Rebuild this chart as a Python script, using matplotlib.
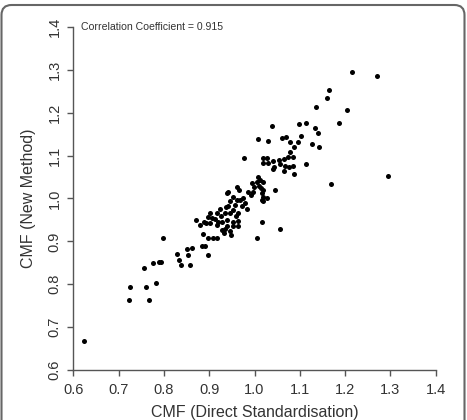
import numpy as np
import matplotlib
matplotlib.use('Agg')
import matplotlib.pyplot as plt
from matplotlib.patches import FancyBboxPatch

plt.rcParams['font.family'] = ['Liberation Sans', 'DejaVu Sans']

# CMF values (direct standardisation vs new method)
cmf_direct = [0.624, 0.725, 0.723, 0.760, 0.766, 0.783, 0.755, 0.777, 0.790, 0.793,
              0.828, 0.834, 0.837, 0.854, 0.857, 0.861, 0.852, 0.797, 0.883, 0.891,
              0.898, 0.871, 0.886, 0.898, 0.908, 0.917, 0.948, 1.005, 1.016, 1.056,
              1.169, 1.295, 1.046,
              0.880, 0.889, 0.893, 0.902, 0.906, 0.913, 0.917, 0.925, 0.920, 0.928,
              0.924, 0.935, 0.937, 0.940, 0.928, 0.935, 0.940, 0.933, 0.946, 0.946,
              0.952, 0.957, 0.961, 0.953, 0.942, 0.939, 0.962, 0.966, 0.968, 0.975,
              0.979, 0.972, 0.964, 0.959, 0.964, 0.952, 0.964, 0.953, 0.942, 0.983,
              0.986, 0.992, 0.997, 0.994, 0.999, 1.005, 1.008, 1.012, 1.019, 1.011,
              1.014, 1.019, 1.016, 1.019, 1.027, 1.016, 1.019, 0.902, 0.898, 0.917,
              0.946,
              0.977, 1.018, 1.027, 1.019, 1.030, 1.040, 1.055, 1.064, 1.075, 1.086,
              1.078, 1.056, 1.067, 1.077, 1.042, 1.040, 1.064, 1.086, 1.087, 1.113,
              1.008, 1.029, 1.061, 1.070, 1.078, 1.095, 1.087, 1.103, 1.128, 1.143,
              1.141, 1.134, 1.039, 1.098, 1.114, 1.186, 1.136, 1.205, 1.159, 1.164,
              1.215, 1.270]
cmf_new = [0.668, 0.794, 0.764, 0.794, 0.763, 0.804, 0.837, 0.850, 0.851, 0.853,
           0.870, 0.857, 0.845, 0.868, 0.845, 0.884, 0.881, 0.907, 0.888, 0.889,
           0.868, 0.950, 0.917, 0.907, 0.907, 0.907, 0.915, 0.907, 0.944, 0.929,
           1.033, 1.053, 1.020,
           0.938, 0.946, 0.942, 0.942, 0.955, 0.951, 0.965, 0.958, 0.946, 0.946,
           0.975, 0.965, 0.979, 0.950, 0.927, 0.928, 0.936, 0.919, 0.923, 0.965,
           0.973, 0.985, 0.997, 1.004, 1.016, 1.012, 1.026, 1.020, 0.997, 1.000,
           0.989, 0.983, 0.967, 0.959, 0.948, 0.946, 0.936, 0.936, 0.983, 0.976,
           1.016, 1.008, 1.016, 1.035, 1.027, 1.039, 1.049, 1.043, 1.039, 1.030,
           1.024, 1.020, 1.012, 1.004, 1.000, 0.997, 0.993, 0.965, 0.956, 0.938,
           0.994,
           1.095, 1.094, 1.094, 1.082, 1.082, 1.087, 1.090, 1.091, 1.097, 1.096,
           1.108, 1.080, 1.076, 1.074, 1.074, 1.068, 1.063, 1.076, 1.057, 1.080,
           1.138, 1.134, 1.142, 1.144, 1.131, 1.131, 1.121, 1.145, 1.126, 1.119,
           1.152, 1.164, 1.170, 1.173, 1.177, 1.176, 1.213, 1.206, 1.234, 1.252,
           1.295, 1.285]

ticks = [0.6, 0.7, 0.8, 0.9, 1.0, 1.1, 1.2, 1.3, 1.4]
tick_labels = ['0.6', '0.7', '0.8', '0.9', '1.0', '1.1', '1.2', '1.3', '1.4']

fig = plt.figure(figsize=(4.67, 4.2), dpi=100)
ax = fig.add_axes([0.157, 0.119, 0.776, 0.817])

ax.scatter(cmf_direct, cmf_new, s=13, c='black', linewidths=0)

ax.set_xlim(0.6, 1.4)
ax.set_ylim(0.6, 1.4)
ax.set_xticks(ticks)
ax.set_xticklabels(tick_labels)
ax.set_yticks(ticks)
ax.set_yticklabels(tick_labels, rotation=90, va='center')
for s in ['top', 'right']:
    ax.spines[s].set_visible(False)
for s in ['left', 'bottom']:
    ax.spines[s].set_color('#555555')
    ax.spines[s].set_linewidth(1.0)
ax.tick_params(axis='both', colors='#555555', labelcolor='#333333',
               labelsize=10.5, length=4, width=1.0)
ax.tick_params(axis='x', pad=5)
ax.tick_params(axis='y', pad=4.5)

ax.set_xlabel('CMF (Direct Standardisation)', fontsize=11.5, color='#333333', labelpad=6)
ax.set_ylabel('CMF (New Method)', fontsize=11.5, color='#333333', labelpad=8)

ax.text(0.02, 1.0, 'Correlation Coefficient = 0.915', transform=ax.transAxes,
        fontsize=7.6, color='#333333', ha='left', va='center')

# rounded frame round the whole figure
frame = FancyBboxPatch((0.015, -0.3), 4.63, 4.45, boxstyle='round,pad=0,rounding_size=0.1',
                       transform=fig.dpi_scale_trans, fill=False,
                       edgecolor='#666666', linewidth=1.5)
fig.patches.append(frame)

fig.savefig('out.png', dpi=100)
